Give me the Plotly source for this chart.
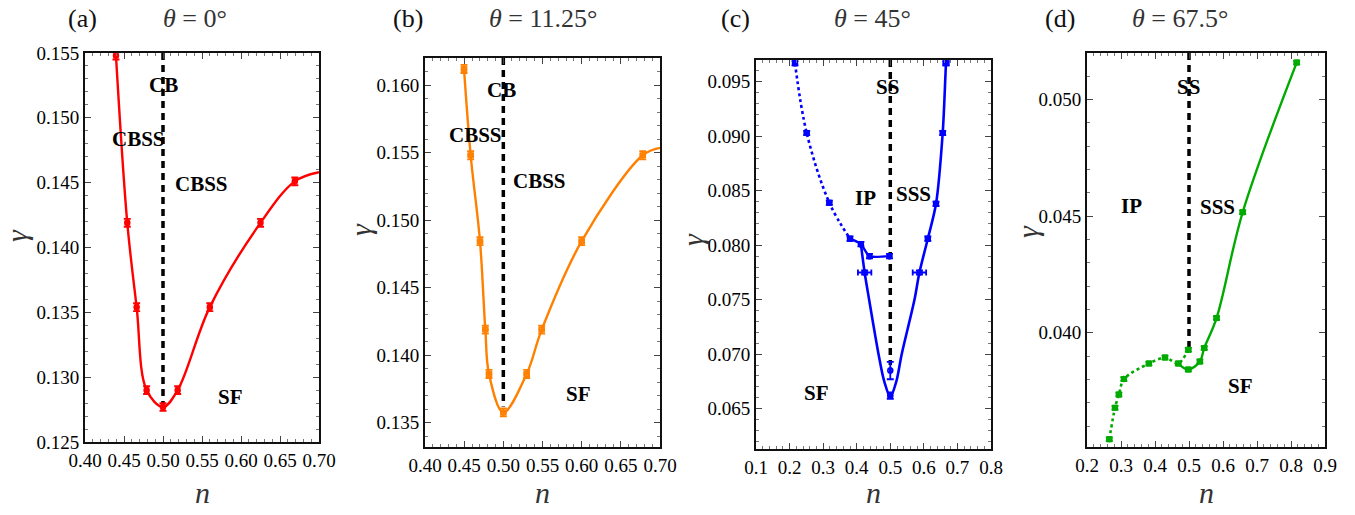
import plotly.graph_objects as go

W, H = 1355, 515

# ---------------- data ----------------
# (a) theta = 0
a_n = [0.4397, 0.4542, 0.4662, 0.479, 0.500, 0.5188, 0.560, 0.625, 0.669]
a_g = [0.1548, 0.1419, 0.1354, 0.1290, 0.1277, 0.1290, 0.1354, 0.1419, 0.1451]
a_curve_n = a_n + [0.700]
a_curve_g = a_g + [0.1458]
a_ex = [0.002] * 9
a_ey = [0.0003] * 9
a_cb_end = 0.1280

# (b) theta = 11.25
b_n = [0.4498, 0.4583, 0.4702, 0.4770, 0.4817, 0.500, 0.5298, 0.549, 0.600, 0.678]
b_g = [0.16119, 0.1548, 0.14844, 0.14189, 0.13861, 0.13576, 0.13861, 0.14189, 0.14844, 0.1548]
b_curve_n = b_n + [0.700]
b_curve_g = b_g + [0.15535]
b_ex = [0.003] * 10
b_ey = [0.0003] * 10
b_cb_end = 0.1362

# (c) theta = 45
c_dot_n = [0.2162, 0.251, 0.3184, 0.380]
c_dot_g = [0.0967, 0.0903, 0.0839, 0.0806]
c_ip_n = [0.380, 0.4125, 0.438, 0.4977]
c_ip_g = [0.0806, 0.0801, 0.0790, 0.0790]
c_u_n = [0.4125, 0.4236, 0.437, 0.465, 0.482, 0.500, 0.518, 0.534, 0.572, 0.5868,
         0.6118, 0.6362, 0.6561, 0.666, 0.670]
c_u_g = [0.0801, 0.0775, 0.0750, 0.0700, 0.0675, 0.0661, 0.0675, 0.0700, 0.0750, 0.0775,
         0.0806, 0.0838, 0.0903, 0.0967, 0.0985]
c_pt_n = [0.2162, 0.251, 0.3184, 0.380, 0.4125, 0.438, 0.4977, 0.500, 0.500,
          0.4236, 0.5868, 0.6118, 0.6362, 0.6561, 0.666]
c_pt_g = [0.0967, 0.0903, 0.0839, 0.0806, 0.0801, 0.0790, 0.0790, 0.0685, 0.0662,
          0.0775, 0.0775, 0.0806, 0.0838, 0.0903, 0.0967]
c_ex = [0.006, 0.006, 0.006, 0.006, 0.003, 0.003, 0.002, 0.002, 0.006,
        0.020, 0.020, 0.006, 0.006, 0.006, 0.008]
c_ey = [0.0002, 0.0002, 0.0002, 0.0002, 0.0002, 0.0002, 0.0002, 0.0008, 0.0003,
        0.0002, 0.0002, 0.0002, 0.0002, 0.0002, 0.0002]
c_cb_end = 0.0690

# (d) theta = 67.5
d_dot_n = [0.2656, 0.2823, 0.2938, 0.3085, 0.382, 0.4294, 0.4685, 0.498]
d_dot_g = [0.03543, 0.03678, 0.03735, 0.03802, 0.03868, 0.03894, 0.03868, 0.03927]
d_sol_n = [0.4685, 0.498, 0.532, 0.5448, 0.581, 0.6579, 0.8167]
d_sol_g = [0.03868, 0.03842, 0.03877, 0.03935, 0.04063, 0.04517, 0.05159]
d_pt_n = d_dot_n + d_sol_n[1:]
d_pt_g = d_dot_g + d_sol_g[1:]
d_ex = [0.006] * len(d_pt_n)
d_ey = [0.00008] * len(d_pt_n)
d_cb_end = 0.0393

# ---------------- layout geometry (pixels) ----------------
panels = [
    dict(x0=85, x1=319, y0=53, y1=442, xr=[0.40, 0.70], yr=[0.125, 0.155],
         xd=0.05, yd=0.005, xf='.2f', yf='.3f'),
    dict(x0=425, x1=660, y0=58, y1=447, xr=[0.40, 0.70], yr=[0.1332, 0.162],
         xd=0.05, yd=0.005, xf='.2f', yf='.3f'),
    dict(x0=756, x1=991, y0=60, y1=449, xr=[0.1, 0.8], yr=[0.0613, 0.097],
         xd=0.1, yd=0.005, xf='.1f', yf='.3f'),
    dict(x0=1087, x1=1325, y0=53, y1=447, xr=[0.2, 0.9], yr=[0.0351, 0.0520],
         xd=0.1, yd=0.005, xf='.1f', yf='.3f'),
]

RED = '#ff0000'
ORANGE = '#ff8000'
BLUE = '#0000ff'
GREEN = '#00aa00'

fig = go.Figure()

def ax(i):
    return ('x' if i == 0 else f'x{i+1}'), ('y' if i == 0 else f'y{i+1}')

def line(i, xs, ys, color, dash='solid', width=2.4, smooth=1.0):
    xa, ya = ax(i)
    fig.add_trace(go.Scatter(x=xs, y=ys, mode='lines', xaxis=xa, yaxis=ya,
                             line=dict(color=color, width=width, dash=dash,
                                       shape='spline', smoothing=smooth),
                             showlegend=False, hoverinfo='skip'))

def pts(i, xs, ys, ex, ey, color):
    xa, ya = ax(i)
    fig.add_trace(go.Scatter(x=xs, y=ys, mode='markers', xaxis=xa, yaxis=ya,
                             marker=dict(symbol='circle-open', size=5, color=color,
                                         line=dict(width=1.5, color=color)),
                             error_x=dict(type='data', array=ex, color=color,
                                          thickness=1.8, width=3),
                             error_y=dict(type='data', array=ey, color=color,
                                          thickness=1.8, width=3.5),
                             showlegend=False, hoverinfo='skip'))

def cbline(i, top, end):
    xa, ya = ax(i)
    fig.add_trace(go.Scatter(x=[0.5, 0.5], y=[top, end], mode='lines',
                             xaxis=xa, yaxis=ya,
                             line=dict(color='black', width=3.5, dash='7px,5px'),
                             showlegend=False, hoverinfo='skip'))

# (a)
cbline(0, 0.155, a_cb_end)
line(0, a_curve_n, a_curve_g, RED)
pts(0, a_n, a_g, a_ex, a_ey, RED)
# (b)
cbline(1, 0.162, b_cb_end)
line(1, b_curve_n, b_curve_g, ORANGE)
pts(1, b_n, b_g, b_ex, b_ey, ORANGE)
# (c)
cbline(2, 0.097, c_cb_end)
line(2, c_dot_n, c_dot_g, BLUE, dash='dot', width=2.6)
line(2, c_ip_n, c_ip_g, BLUE, smooth=0.6)
line(2, c_u_n, c_u_g, BLUE, width=2.6, smooth=0.9)
pts(2, c_pt_n, c_pt_g, c_ex, c_ey, BLUE)
# (d)
cbline(3, 0.0520, d_cb_end)
line(3, d_dot_n, d_dot_g, GREEN, dash='dot', width=2.6, smooth=0.8)
line(3, d_sol_n, d_sol_g, GREEN, width=2.4)
pts(3, d_pt_n, d_pt_g, d_ex, d_ey, GREEN)

SERIF = 'Liberation Serif, Times New Roman, serif'
TICKFONT = dict(family=SERIF, size=19, color='black')
layout = dict(width=W, height=H, margin=dict(l=0, r=0, t=0, b=0, autoexpand=False),
              paper_bgcolor='white', plot_bgcolor='white', showlegend=False)

for i, p in enumerate(panels):
    sx = '' if i == 0 else str(i + 1)
    common = dict(ticks='inside', ticklen=6, tickwidth=1.2, tickcolor='#444',
                  mirror='allticks', showline=True, linecolor='#111', linewidth=2,
                  showgrid=False, zeroline=False, tickfont=TICKFONT, automargin=False,
                  tick0=0)
    xa = dict(domain=[p['x0'] / W, p['x1'] / W], range=p['xr'], anchor='y' + sx,
              dtick=p['xd'], tickformat=p['xf'],
              minor=dict(dtick=p['xd'] / 5, ticks='inside', ticklen=3,
                         tickcolor='#777', tickwidth=1.2, showgrid=False), **common)
    ya = dict(domain=[1 - p['y1'] / H, 1 - p['y0'] / H], range=p['yr'], anchor='x' + sx,
              dtick=p['yd'], tickformat=p['yf'],
              minor=dict(dtick=p['yd'] / 5, ticks='inside', ticklen=3,
                         tickcolor='#777', tickwidth=1.2, showgrid=False), **common)
    layout['xaxis' + sx] = xa
    layout['yaxis' + sx] = ya

fig.update_layout(**layout)

annos = []

def paper_text(x, y, text, size, color='#222', angle=0):
    annos.append(dict(x=x / W, y=1 - y / H, xref='paper', yref='paper', text=text,
                      showarrow=False, xanchor='center', yanchor='middle',
                      textangle=angle,
                      font=dict(family=SERIF, size=size, color=color)))

# panel headers
headers = [(82, '(a)', 195, '<i>θ</i> = 0°'),
           (408, '(b)', 543, '<i>θ</i> = 11.25°'),
           (735, '(c)', 872, '<i>θ</i> = 45°'),
           (1060, '(d)', 1180, '<i>θ</i> = 67.5°')]
for xl, lab, xt, th in headers:
    paper_text(xl, 18, lab, 26, '#111')
    paper_text(xt, 18, th, 26, '#333')

# axis titles
for p, gx, gy in zip(panels, [16, 360, 692, 1027], [236, 230, 240, 232]):
    paper_text((p['x0'] + p['x1']) / 2, 492, '<i>n</i>', 30, '#333')
    paper_text(gx, gy, '<i>γ</i>', 30, '#333', angle=-90)

# region labels (data coords)
region_labels = [
    (0, 0.500, 0.1525, 'CB'), (0, 0.468, 0.1484, 'CBSS'),
    (0, 0.549, 0.1449, 'CBSS'), (0, 0.587, 0.1285, 'SF'),
    (1, 0.498, 0.1596, 'CB'), (1, 0.4639, 0.1563, 'CBSS'),
    (1, 0.5456, 0.1529, 'CBSS'), (1, 0.5958, 0.1371, 'SF'),
    (2, 0.4923, 0.0945, 'SS'), (2, 0.4247, 0.08437, 'IP'),
    (2, 0.5686, 0.08467, 'SSS'), (2, 0.2808, 0.06648, 'SF'),
    (3, 0.498, 0.05056, 'SS'), (3, 0.3314, 0.04543, 'IP'),
    (3, 0.583, 0.0454, 'SSS'), (3, 0.6529, 0.0377, 'SF'),
]
for i, xv, yv, t in region_labels:
    xa, ya = ax(i)
    annos.append(dict(x=xv, y=yv, xref=xa, yref=ya, text='<b>' + t + '</b>',
                      showarrow=False, xanchor='center', yanchor='middle',
                      font=dict(family=SERIF, size=21, color='black')))

fig.update_layout(annotations=annos)
fig.write_html('out.html')
